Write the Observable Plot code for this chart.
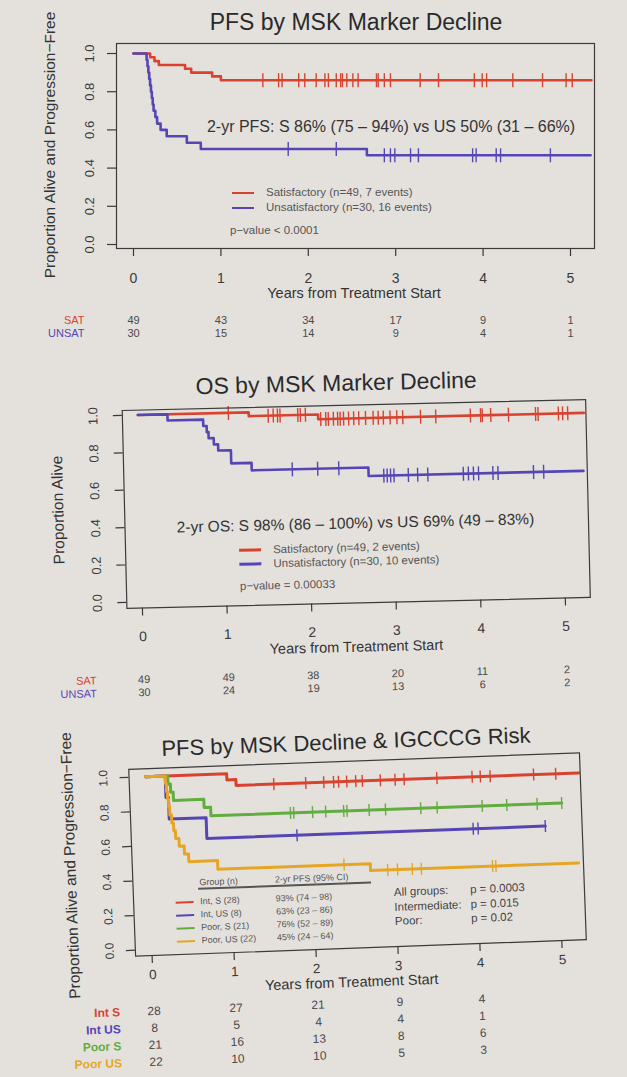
<!DOCTYPE html>
<html>
<head>
<meta charset="utf-8">
<script src="https://cdn.jsdelivr.net/npm/d3@7"></script>
<script src="https://cdn.jsdelivr.net/npm/@observablehq/plot@0.6"></script>
<style>
  body { margin: 0; background: #e4e1dd; }
  #page { position: relative; width: 627px; height: 1077px; overflow: hidden;
          font-family: "Liberation Sans", Arial, Helvetica, sans-serif; color: #333; }
  .layer { position: absolute; left: 0; top: 0; width: 627px; height: 1077px; }
  .t { position: absolute; white-space: nowrap; line-height: 1; }
  .key { position: absolute; }
  svg { overflow: visible; }
</style>
</head>
<body>
<div id="page"></div>
<script>
// ---------- shared ticks ----------
const yearTicks = [0, 1, 2, 3, 4, 5];
const survTicks = [0, 0.2, 0.4, 0.6, 0.8, 1];

// ---------- PFS by MSK marker decline ----------
const pfsSatEventYears = [0.19, 0.24, 0.29, 0.59, 0.66, 0.90, 1.00];
const pfsSatSurvival   = [0.98, 0.96, 0.94, 0.92, 0.90, 0.88, 0.86];
const pfsSatCensored   = [1.48, 1.66, 1.70, 1.89, 1.96, 2.09, 2.19, 2.23, 2.32, 2.37, 2.39, 2.44, 2.51, 2.57,
                          2.78, 2.80, 2.87, 2.94, 3.28, 3.49, 3.90, 3.99, 4.04, 4.34, 4.68, 4.95, 5.02];
const pfsSatLastYear = 5.24;

const pfsUnsatEventYears = [0.15, 0.16, 0.17, 0.18, 0.19, 0.20, 0.21, 0.22, 0.23, 0.25, 0.27, 0.31, 0.38, 0.61, 0.77, 2.67];
const pfsUnsatSurvival   = [0.967, 0.933, 0.9, 0.867, 0.833, 0.8, 0.767, 0.733, 0.7, 0.667, 0.633, 0.6, 0.567, 0.533, 0.5, 0.467];
const pfsUnsatCensored   = [1.77, 2.32, 2.87, 2.94, 2.99, 3.17, 3.26, 3.88, 3.92, 4.15, 4.20, 4.77];
const pfsUnsatLastYear = 5.23;

const pfsRiskSat   = [49, 43, 34, 17, 9, 1];
const pfsRiskUnsat = [30, 15, 14, 9, 4, 1];

// ---------- OS by MSK marker decline ----------
const osSatEventYears = [1.31, 2.13];
const osSatSurvival   = [0.98, 0.955];
const osSatCensored   = [1.07, 1.54, 1.60, 1.65, 1.68, 1.89, 1.92, 1.98, 2.16, 2.22, 2.25, 2.31, 2.36, 2.39, 2.43,
                         2.49, 2.55, 2.61, 2.69, 2.78, 2.84, 2.90, 2.98, 3.06, 3.13, 3.34, 3.52, 3.93, 4.05, 4.07,
                         4.17, 4.38, 4.70, 4.73, 4.97, 5.02, 5.08];
const osSatLastYear = 5.27;

const osUnsatEventYears = [0.35, 0.77, 0.81, 0.83, 0.89, 0.94, 1.09, 1.33, 2.71];
const osUnsatSurvival   = [0.967, 0.933, 0.9, 0.867, 0.833, 0.8, 0.73, 0.69, 0.645];
const osUnsatCensored   = [1.81, 2.11, 2.36, 2.89, 2.93, 2.97, 3.01, 3.18, 3.29, 3.41, 3.83, 3.89, 3.95, 4.01,
                           4.18, 4.24, 4.66, 4.78];
const osUnsatLastYear = 5.25;

const osRiskSat   = [49, 49, 38, 20, 11, 2];
const osRiskUnsat = [30, 24, 19, 13, 6, 2];

// ---------- PFS by MSK decline & IGCCCG risk ----------
const riskYears3 = [0, 1, 2, 3, 4];

const intSEventYears = [0.99, 1.10];
const intSSurvival   = [0.964, 0.93];
const intSCensored   = [1.56, 1.95, 2.17, 2.29, 2.35, 2.45, 2.56, 2.64, 2.86, 3.04, 3.15, 3.55, 3.98, 4.08, 4.20, 4.73, 5.00];
const intSLastYear = 5.28;

const intUSEventYears = [0.24, 0.27, 0.72];
const intUSSurvival   = [0.875, 0.75, 0.63];
const intUSCensored   = [1.82, 3.97, 4.03, 4.85];
const intUSLastYear = 4.85;

const poorSEventYears = [0.27, 0.30, 0.33, 0.70, 0.78];
const poorSSurvival   = [0.952, 0.905, 0.857, 0.81, 0.76];
const poorSCensored   = [1.75, 1.79, 2.02, 2.18, 2.40, 2.44, 2.71, 2.91, 3.34, 3.54, 4.09, 4.39, 4.76, 5.06];
const poorSLastYear = 5.06;

const poorUSEventYears = [0.24, 0.25, 0.26, 0.27, 0.28, 0.30, 0.32, 0.34, 0.38, 0.44, 0.49, 0.84, 2.70];
const poorUSSurvival   = [0.955, 0.909, 0.864, 0.818, 0.773, 0.727, 0.682, 0.636, 0.591, 0.545, 0.5, 0.45, 0.41];
const poorUSCensored   = [2.38, 2.91, 3.03, 3.21, 3.32, 4.19, 4.23];
const poorUSLastYear = 5.24;

const riskIntS   = [28, 27, 21, 9, 4];
const riskIntUS  = [8, 5, 4, 4, 1];
const riskPoorS  = [21, 16, 13, 8, 6];
const riskPoorUS = [22, 10, 10, 5, 3];

const groupKeys3   = ["Int, S (28)", "Int, US (8)", "Poor, S (21)", "Poor, US (22)"];
const twoYearPfs3  = ["93% (74 \u2013 98)", "63% (23 \u2013 86)", "76% (52 \u2013 89)", "45% (24 \u2013 64)"];
const pLabels3     = ["All groups:", "Intermediate:", "Poor:"];
const pValues3     = ["p = 0.0003", "p = 0.015", "p = 0.02"];

// ---------- styling ----------
const RED = "#d8432f", BLUE = "#5646b5", GREEN = "#62ad3f", GOLD = "#e6a623";
const INK = "#333";
const page = document.getElementById("page");

// vertical bar used for censoring marks
const censorBar = {
  draw(context, size) {
    const h = Math.sqrt(size / Math.PI);
    context.moveTo(0, -h);
    context.lineTo(0, h);
  }
};

function stepSeries(eventYears, survival, lastYear) {
  const pts = [{t: 0, s: 1}];
  eventYears.forEach((t, i) => pts.push({t, s: survival[i]}));
  pts.push({t: lastYear, s: survival[survival.length - 1]});
  return pts;
}
function survivalAt(eventYears, survival, t) {
  let s = 1;
  eventYears.forEach((e, i) => { if (e <= t) s = survival[i]; });
  return s;
}

function makeLayer(origin, angle) {
  const div = document.createElement("div");
  div.className = "layer";
  div.style.transformOrigin = `${origin[0]}px ${origin[1]}px`;
  if (angle) div.style.transform = `rotate(${angle}deg)`;
  page.appendChild(div);
  return div;
}

function addText(layer, str, x, y, {size = 12, anchor = "middle", color = INK, rotate = 0, weight = "normal"} = {}) {
  const el = document.createElement("div");
  el.className = "t";
  el.textContent = str;
  el.style.left = x + "px";
  el.style.top = y + "px";
  el.style.fontSize = size + "px";
  el.style.color = color;
  el.style.fontWeight = weight;
  const tx = anchor === "start" ? "0" : anchor === "end" ? "-100%" : "-50%";
  el.style.transform = rotate ? `translate(-50%, -50%) rotate(${rotate}deg)` : `translate(${tx}, -50%)`;
  layer.appendChild(el);
}

function addKey(layer, x1, x2, y, color, w = 2.5) {
  const el = document.createElement("div");
  el.className = "key";
  el.style.left = x1 + "px";
  el.style.top = (y - w / 2) + "px";
  el.style.width = (x2 - x1) + "px";
  el.style.height = w + "px";
  el.style.background = color;
  layer.appendChild(el);
}

function place(layer, svg, top) {
  svg.style.position = "absolute";
  svg.style.left = "0px";
  svg.style.top = top + "px";
  layer.appendChild(svg);
}

function xDomain(g) { return [(g.L - g.x0) / g.ppy, (g.R - g.x0) / g.ppy]; }

function kmPlot(layer, g, groups) {
  const k = g.y0 - g.y1;
  const svg = Plot.plot({
    width: 627, height: g.height,
    marginLeft: g.L, marginRight: 627 - g.R,
    marginTop: g.T - g.top, marginBottom: g.top + g.height - g.B,
    style: {background: "transparent", fontFamily: '"Liberation Sans", Arial, sans-serif', color: "#3a3a3a", overflow: "visible"},
    x: {domain: xDomain(g)},
    y: {domain: [(g.y0 - g.B) / k, (g.y0 - g.T) / k]},
    marks: [
      Plot.axisX({ticks: yearTicks, tickFormat: d => String(d), tickSize: 8, tickPadding: g.xPad,
                  fontSize: g.xFont, label: null, strokeWidth: 1.2}),
      Plot.axisY({ticks: survTicks, tickFormat: d3.format(".1f"), tickRotate: -90, tickSize: 9,
                  tickPadding: g.yPad, fontSize: g.yFont, label: null, strokeWidth: 1.2}),
      ...groups.flatMap(s => [
        Plot.line(stepSeries(s.events, s.surv, s.last),
                  {x: "t", y: "s", curve: "step-after", stroke: s.color, strokeWidth: g.lw}),
        Plot.dot(s.censored.map(t => ({t, s: survivalAt(s.events, s.surv, t)})),
                 {x: "t", y: "s", symbol: censorBar, r: g.censorR, stroke: s.color, strokeWidth: 1.4, fill: "none"})
      ]),
      Plot.frame({stroke: "#3b3b3b", strokeWidth: 1.2})
    ]
  });
  place(layer, svg, g.top);
}

function riskTable(layer, g, rows, years, {top, height, rowsY, labelRight, font, labelFont, labelWeight = "normal"}) {
  const marks = [];
  rows.forEach(r => {
    marks.push(Plot.text(years.map((yr, j) => ({t: yr, n: r.counts[j], g: r.label})),
      {x: "t", y: "g", text: d => String(d.n), fill: "#4a4a4a", fontSize: font}));
    marks.push(Plot.text([r.label],
      {y: d => d, text: d => d, frameAnchor: "left", dx: labelRight - g.L, textAnchor: "end",
       fill: r.color, fontSize: labelFont, fontWeight: labelWeight}));
  });
  const svg = Plot.plot({
    width: 627, height,
    marginLeft: g.L, marginRight: 627 - g.R, marginTop: 0, marginBottom: 0,
    style: {background: "transparent", fontFamily: '"Liberation Sans", Arial, sans-serif', overflow: "visible"},
    x: {domain: xDomain(g), axis: null},
    y: {type: "point", padding: 0, domain: rows.map(r => r.label),
        range: [rowsY[0] - top, rowsY[rowsY.length - 1] - top], axis: null},
    marks
  });
  place(layer, svg, top);
}

// ================= Panel 1: PFS =================
{
  const layer = makeLayer([355, 145], 0);
  const g = {top: 0, height: 305, L: 116, R: 594, T: 43, B: 248, x0: 133, ppy: 87.4, y1: 53, y0: 244,
             xPad: 16.5, yPad: 14, xFont: 14, yFont: 13, lw: 2.6, censorR: 7};
  kmPlot(layer, g, [
    {events: pfsSatEventYears, surv: pfsSatSurvival, censored: pfsSatCensored, last: pfsSatLastYear, color: RED},
    {events: pfsUnsatEventYears, surv: pfsUnsatSurvival, censored: pfsUnsatCensored, last: pfsUnsatLastYear, color: BLUE}
  ]);
  riskTable(layer, g, [
    {label: "SAT", counts: pfsRiskSat, color: RED},
    {label: "UNSAT", counts: pfsRiskUnsat, color: BLUE}
  ], yearTicks, {top: 305, height: 40, rowsY: [320, 333], labelRight: 84, font: 11, labelFont: 11});

  addText(layer, "PFS by MSK Marker Decline", 356, 22, {size: 23, color: "#2a2a2a"});
  addText(layer, "Proportion Alive and Progression\u2212Free", 50, 145, {size: 15.5, rotate: -90});
  addText(layer, "Years from Treatment Start", 354, 293, {size: 14.5});
  addText(layer, "2-yr PFS: S 86% (75 \u2013 94%) vs US 50% (31 \u2013 66%)", 391, 127, {size: 16});
  addKey(layer, 232, 254, 193, RED);
  addKey(layer, 232, 254, 208, BLUE);
  addText(layer, "Satisfactory (n=49, 7 events)", 266, 193, {size: 11.5, anchor: "start", color: "#555"});
  addText(layer, "Unsatisfactory (n=30, 16 events)", 266, 208, {size: 11.5, anchor: "start", color: "#555"});
  addText(layer, "p\u2212value < 0.0001", 230, 231, {size: 11.5, anchor: "start", color: "#555"});
}

// ================= Panel 2: OS =================
{
  const layer = makeLayer([355.75, 503.5], -1.36);
  const g = {top: 360, height: 305, L: 124, R: 587.5, T: 404.5, B: 602.5, x0: 139.5, ppy: 84.6, y1: 409.4, y0: 596.4,
             xPad: 15, yPad: 16, xFont: 14, yFont: 13, lw: 2.6, censorR: 7};
  kmPlot(layer, g, [
    {events: osSatEventYears, surv: osSatSurvival, censored: osSatCensored, last: osSatLastYear, color: RED},
    {events: osUnsatEventYears, surv: osUnsatSurvival, censored: osUnsatCensored, last: osUnsatLastYear, color: BLUE}
  ]);
  riskTable(layer, g, [
    {label: "SAT", counts: osRiskSat, color: RED},
    {label: "UNSAT", counts: osRiskUnsat, color: BLUE}
  ], yearTicks, {top: 665, height: 35, rowsY: [674, 687], labelRight: 92, font: 11, labelFont: 11});

  addText(layer, "OS by MSK Marker Decline", 339, 383, {size: 23, color: "#2a2a2a"});
  addText(layer, "Proportion Alive", 58, 503, {size: 15.5, rotate: -90});
  addText(layer, "Years from Treatment Start", 353, 647, {size: 14.5});
  addText(layer, "2-yr OS: S 98% (86 \u2013 100%) vs US 69% (49 \u2013 83%)", 355, 523, {size: 15.5});
  addKey(layer, 238, 260, 547.5, RED);
  addKey(layer, 238, 260, 561.5, BLUE);
  addText(layer, "Satisfactory (n=49, 2 events)", 272, 547.5, {size: 11.5, anchor: "start", color: "#555"});
  addText(layer, "Unsatisfactory (n=30, 10 events)", 272, 561.5, {size: 11.5, anchor: "start", color: "#555"});
  addText(layer, "p\u2212value = 0.00033", 238, 584, {size: 11.5, anchor: "start", color: "#555"});
}

// ================= Panel 3: PFS by decline and IGCCCG risk =================
{
  const layer = makeLayer([357, 854], -2.1);
  const g = {top: 720, height: 290, L: 131.5, R: 582.5, T: 760.5, B: 947.5, x0: 148, ppy: 82, y1: 768.5, y0: 941.5,
             xPad: 6, yPad: 12.8, xFont: 13.5, yFont: 12, lw: 3, censorR: 6};
  kmPlot(layer, g, [
    {events: intSEventYears, surv: intSSurvival, censored: intSCensored, last: intSLastYear, color: RED},
    {events: intUSEventYears, surv: intUSSurvival, censored: intUSCensored, last: intUSLastYear, color: BLUE},
    {events: poorSEventYears, surv: poorSSurvival, censored: poorSCensored, last: poorSLastYear, color: GREEN},
    {events: poorUSEventYears, surv: poorUSSurvival, censored: poorUSCensored, last: poorUSLastYear, color: GOLD}
  ]);
  riskTable(layer, g, [
    {label: "Int S", counts: riskIntS, color: RED},
    {label: "Int US", counts: riskIntUS, color: BLUE},
    {label: "Poor S", counts: riskPoorS, color: GREEN},
    {label: "Poor US", counts: riskPoorUS, color: GOLD}
  ], riskYears3, {top: 990, height: 80, rowsY: [1003, 1020, 1037, 1054], labelRight: 114, font: 12, labelFont: 12, labelWeight: "bold"});

  addText(layer, "PFS by MSK Decline & IGCCCG Risk", 350, 742, {size: 22, color: "#2a2a2a"});
  addText(layer, "Proportion Alive and Progression\u2212Free", 70, 855, {size: 15.5, rotate: -90});
  addText(layer, "Years from Treatment Start", 347, 982, {size: 14.5});

  // group key with two-year estimates
  addText(layer, "Group (n)", 198.5, 877, {size: 9, anchor: "start", color: "#555"});
  addText(layer, "2-yr PFS (95% CI)", 274, 877, {size: 9, anchor: "start", color: "#555"});
  addKey(layer, 197, 370, 883, "#555", 1.2);
  const keyColors = [RED, BLUE, GREEN, GOLD];
  const keyRows = [896, 909, 922, 935];
  groupKeys3.forEach((name, i) => {
    addKey(layer, 174, 192, keyRows[i], keyColors[i], 2.5);
    addText(layer, name, 198.5, keyRows[i], {size: 9, anchor: "start", color: "#555"});
    addText(layer, twoYearPfs3[i], 274, keyRows[i], {size: 9, anchor: "start", color: "#555"});
  });
  const pRows = [894, 909, 923];
  pLabels3.forEach((lab, i) => {
    addText(layer, lab, 392.5, pRows[i], {size: 11.5, anchor: "start", color: "#444"});
    addText(layer, pValues3[i], 468.7, pRows[i], {size: 11.5, anchor: "start", color: "#444"});
  });
}
</script>
</body>
</html>
